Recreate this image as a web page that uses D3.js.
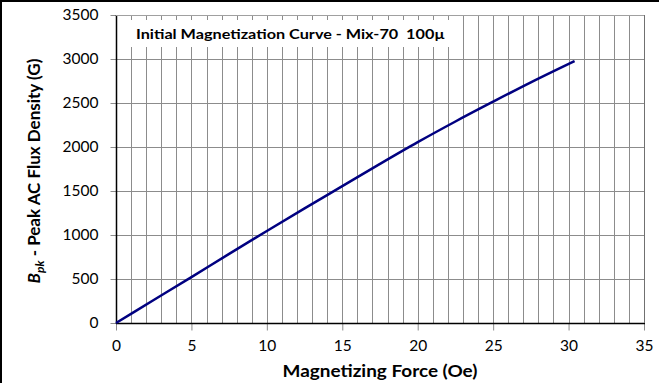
<!DOCTYPE html>
<html><head><meta charset="utf-8">
<script src="https://cdn.jsdelivr.net/npm/d3@7"></script>
<style>body{margin:0;background:#fff}svg{display:block}</style>
</head><body>
<svg id="c" width="659" height="383"></svg>
<script>
const xData = [0, 2.5, 5, 7.5, 10, 12.5, 15, 17.5, 20, 22.5, 25, 27.5, 30.4];
const yData = [0, 261, 522, 786, 1046, 1302, 1555, 1808, 2055, 2290, 2515, 2735, 2977];
const xTicks = [0, 5, 10, 15, 20, 25, 30, 35];
const yTicks = [0, 500, 1000, 1500, 2000, 2500, 3000, 3500];
const titleText = "Initial Magnetization Curve - Mix-70  100µ";
const xTitle = "Magnetizing Force (Oe)";

const font = "Lato, 'Open Sans', sans-serif";
const svg = d3.select("#c");
const L = 116, R = 644, T = 15, B = 323;
const x = d3.scaleLinear().domain([0, 35]).range([L, R]);
const y = d3.scaleLinear().domain([0, 3500]).range([B, T]);

// outer frame (only left and top visible in the crop)
svg.append("line").attr("x1", 1).attr("x2", 1).attr("y1", 0).attr("y2", 383).attr("stroke", "#000").attr("stroke-width", 2);
svg.append("line").attr("x1", 0).attr("x2", 659).attr("y1", 1).attr("y2", 1).attr("stroke", "#000").attr("stroke-width", 2);

// grid
const g = svg.append("g");
g.selectAll("line.v").data(d3.range(1, 36)).join("line")
  .attr("x1", d => Math.round(x(d)) + 0.5).attr("x2", d => Math.round(x(d)) + 0.5)
  .attr("y1", T).attr("y2", B).attr("stroke", "#8c8c8c").attr("stroke-width", 1);
g.selectAll("line.h").data(yTicks.slice(1)).join("line")
  .attr("y1", d => Math.round(y(d)) + 0.5).attr("y2", d => Math.round(y(d)) + 0.5)
  .attr("x1", L).attr("x2", R).attr("stroke", "#8c8c8c").attr("stroke-width", 1);

// title box
svg.append("rect").attr("x", 125).attr("y", 20).attr("width", 330).attr("height", 27).attr("fill", "#fff");
svg.append("text").attr("x", 136).attr("y", 38.5).attr("font-family", font).attr("font-weight", "bold")
  .attr("font-size", 14).attr("fill", "#000").attr("textLength", 309).attr("lengthAdjust", "spacingAndGlyphs")
  .attr("xml:space", "preserve").style("white-space", "pre")
  .text(titleText);

// axes
const xAxis = d3.axisBottom(x).tickValues(xTicks).tickSize(7).tickPadding(9).tickFormat(d3.format("d"));
const yAxis = d3.axisLeft(y).tickValues(yTicks).tickSize(6).tickPadding(12).tickFormat(d3.format("d"));
const xa = svg.append("g").attr("transform", `translate(0,${B + 0.5})`).call(xAxis);
const ya = svg.append("g").attr("transform", `translate(${L + 0.5},0)`).call(yAxis);
[xa, ya].forEach(a => {
  a.select(".domain").remove();
  a.selectAll(".tick line").attr("stroke", "#8c8c8c");
  a.selectAll("text").attr("font-family", font).attr("font-size", 15.5).attr("fill", "#000");
});
svg.append("line").attr("x1", L).attr("x2", R + 1).attr("y1", B + 0.5).attr("y2", B + 0.5).attr("stroke", "#000").attr("stroke-width", 1.5);
svg.append("line").attr("x1", L + 0.5).attr("x2", L + 0.5).attr("y1", T).attr("y2", B + 1).attr("stroke", "#000").attr("stroke-width", 1.5);
svg.append("line").attr("x1", L).attr("x2", R + 0.5).attr("y1", T + 0.5).attr("y2", T + 0.5).attr("stroke", "#a0a0a0");
svg.append("line").attr("x1", R + 0.5).attr("x2", R + 0.5).attr("y1", T).attr("y2", B).attr("stroke", "#707070");

// curve
svg.append("path").datum(d3.zip(xData, yData))
  .attr("d", d3.line().x(d => x(d[0])).y(d => y(d[1])).curve(d3.curveMonotoneX))
  .attr("fill", "none").attr("stroke", "#000080").attr("stroke-width", 2.5);

// axis titles
svg.append("text").attr("x", (L + R) / 2).attr("y", 377).attr("text-anchor", "middle")
  .attr("font-family", font).attr("font-weight", "bold").attr("font-size", 17)
  .attr("textLength", 195).attr("lengthAdjust", "spacingAndGlyphs").text(xTitle);

const yt = svg.append("text").attr("transform", `translate(40,171) rotate(-90)`)
  .attr("text-anchor", "middle").attr("font-family", font).attr("font-weight", "bold").attr("font-size", 17);
yt.append("tspan").attr("font-style", "italic").text("B");
yt.append("tspan").attr("font-style", "italic").attr("font-size", 12).attr("dy", 4).text("pk");
yt.append("tspan").attr("dy", -4).text(" - Peak AC Flux Density (G)");
</script>
</body></html>
